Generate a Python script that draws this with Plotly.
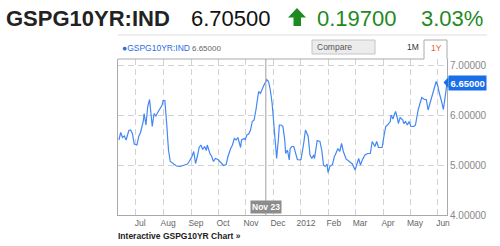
import plotly.graph_objects as go

# ---------------- data ----------------
dates = [
"2011-06-13","2011-06-15","2011-06-17","2011-06-19","2011-06-21","2011-06-24","2011-06-26","2011-06-28","2011-06-30",
"2011-07-03","2011-07-05","2011-07-07","2011-07-10","2011-07-11","2011-07-13","2011-07-15","2011-07-17","2011-07-19",
"2011-07-20","2011-07-22","2011-07-24","2011-07-26","2011-07-29","2011-07-31",
"2011-08-01","2011-08-03","2011-08-05","2011-08-07","2011-08-09","2011-08-13","2011-08-16","2011-08-20","2011-08-24",
"2011-08-28","2011-08-30",
"2011-09-02","2011-09-04","2011-09-06","2011-09-08","2011-09-10","2011-09-12","2011-09-14","2011-09-16","2011-09-18",
"2011-09-19","2011-09-22","2011-09-24","2011-09-26","2011-09-28",
"2011-10-01","2011-10-03","2011-10-05","2011-10-07","2011-10-10","2011-10-12","2011-10-15","2011-10-17","2011-10-19",
"2011-10-21","2011-10-23","2011-10-26","2011-10-27","2011-10-30","2011-10-31",
"2011-11-02","2011-11-04","2011-11-06","2011-11-08","2011-11-10","2011-11-12","2011-11-13","2011-11-15","2011-11-17",
"2011-11-19","2011-11-21","2011-11-23","2011-11-24","2011-11-26","2011-11-28","2011-11-30",
"2011-12-02","2011-12-04","2011-12-05","2011-12-07","2011-12-08","2011-12-10","2011-12-12","2011-12-14","2011-12-15",
"2011-12-17","2011-12-19","2011-12-20","2011-12-22","2011-12-24","2011-12-26","2011-12-28","2011-12-30",
"2012-01-01","2012-01-04","2012-01-06","2012-01-09","2012-01-11","2012-01-13","2012-01-15","2012-01-16","2012-01-19",
"2012-01-22","2012-01-24","2012-01-26","2012-01-28","2012-01-30","2012-01-31",
"2012-02-02","2012-02-05","2012-02-07","2012-02-08","2012-02-11","2012-02-13","2012-02-15","2012-02-17","2012-02-20",
"2012-02-23","2012-02-27",
"2012-03-01","2012-03-03","2012-03-05","2012-03-07","2012-03-09","2012-03-12","2012-03-15","2012-03-18","2012-03-20",
"2012-03-23","2012-03-25","2012-03-27","2012-03-29","2012-03-31",
"2012-04-02","2012-04-04","2012-04-06","2012-04-09","2012-04-10","2012-04-12","2012-04-14","2012-04-15","2012-04-17",
"2012-04-18","2012-04-20","2012-04-23","2012-04-24","2012-04-26","2012-04-28","2012-04-30",
"2012-05-02","2012-05-05","2012-05-07","2012-05-09","2012-05-10","2012-05-12","2012-05-14","2012-05-17","2012-05-19",
"2012-05-21","2012-05-23","2012-05-25","2012-05-27","2012-05-30",
"2012-06-01","2012-06-02","2012-06-05","2012-06-07","2012-06-09","2012-06-11",
]
values = [
5.50,5.65,5.55,5.58,5.50,5.69,5.70,5.63,5.42,
5.40,5.57,5.65,5.87,6.03,5.80,6.17,6.31,5.97,
5.77,6.03,5.98,6.05,6.13,6.20,
6.29,6.29,5.83,5.30,5.07,5.01,4.98,4.97,5.00,
5.02,5.07,
5.17,5.27,5.03,5.17,5.35,5.40,5.31,5.37,5.29,
5.40,5.23,5.17,5.07,5.13,
5.11,5.07,5.02,4.99,5.01,5.17,5.33,5.40,5.53,
5.50,5.55,5.35,5.50,5.53,5.50,
5.60,5.62,5.70,5.87,5.90,6.10,6.23,6.47,6.43,
6.53,6.60,6.67,6.71,6.67,6.50,6.23,
5.77,5.43,5.13,5.53,5.80,5.80,5.77,5.50,5.23,
5.30,5.10,5.33,5.37,5.37,5.23,5.11,5.10,
5.11,5.43,5.70,5.57,5.20,5.13,5.20,5.13,5.49,
5.47,5.30,5.00,4.97,5.02,4.85,
4.97,5.01,5.17,5.20,5.33,5.27,5.43,5.27,5.12,
5.07,5.02,
4.90,5.03,5.13,5.00,5.10,5.20,5.23,5.23,5.47,
5.37,5.47,5.35,5.35,5.35,
5.57,5.77,5.80,5.87,6.00,5.92,6.03,6.07,5.93,
5.83,5.95,5.90,5.83,5.87,5.80,5.87,
5.77,5.77,5.80,6.07,6.10,6.23,6.35,6.31,6.31,
6.10,6.23,6.40,6.50,6.67,
6.57,6.47,6.27,6.11,6.37,6.65,
]
tick_dates = ["2011-07-01","2011-08-01","2011-09-01","2011-10-01","2011-11-01","2011-12-01",
              "2012-01-01","2012-02-01","2012-03-01","2012-04-01","2012-05-01","2012-06-01"]
tick_labels = ["Jul","Aug","Sep","Oct","Nov","Dec","2012","Feb","Mar","Apr","May","Jun"]
y_ticks = [4, 5, 6, 7]
x_range = ["2011-06-12", "2012-06-11"]
y_range = [4, 7.12]
symbol = "GSPG10YR:IND"
last_price = "6.70500"
change = "0.19700"
change_pct = "3.03%"
hover_date = "2011-11-23"
hover_label = "Nov 23"
series_value = values[-1]

# ---------------- layout geometry ----------------
W, H = 500, 246
L, R, T, B = 118, 447, 59, 215
FONT = "Liberation Sans, Arial, sans-serif"

def px(x):
    return (x - L) / (R - L)

def py(y):
    return (B - y) / (B - T)

def path(points):
    s = "M " + " L ".join(f"{px(x):.5f},{py(y):.5f}" for x, y in points)
    return s + " Z"

fig = go.Figure()
fig.add_trace(go.Scatter(x=dates, y=values, mode="lines",
                         line=dict(color="#4287f5", width=1.2), hoverinfo="skip"))

annotations = []
def text(x, y, s, size, color, bold=False, anchor="left", **kw):
    annotations.append(dict(xref="paper", yref="paper", x=px(x), y=py(y), text=(f"<b>{s}</b>" if bold else s),
                            showarrow=False, xanchor=anchor, yanchor="middle",
                            font=dict(family=FONT, size=size, color=color), **kw))

text(4, 18, symbol, 22, "#222222", bold=True)
text(189, 18, last_price, 22, "#111111")
text(315, 18, change, 22, "#1f8a1f")
text(419, 18, change_pct, 22, "#1f8a1f")
text(120, 48, "●" + symbol, 8.5, "#2b6de3")
text(190, 48, f"{series_value:.5f}", 8, "#666666")
text(315, 47, "Compare", 8.5, "#555555")
text(405, 47, "1M", 8.5, "#333333")
text(429, 48, "1Y", 8.5, "#f0602c")
text(116, 236, "Interactive GSPG10YR Chart »", 8.5, "#222222", bold=True)

# value label on right axis
annotations.append(dict(xref="paper", yref="y", x=px(448), y=series_value, text=f"<b>{series_value:.5f}</b>",
                        showarrow=False, xanchor="left", yanchor="middle", bgcolor="#1a6ee8", borderpad=1.5,
                        font=dict(family=FONT, size=9.5, color="white")))
# crosshair label
annotations.append(dict(xref="x", yref="paper", x=hover_date, y=0, yshift=1, text=f"<b>{hover_label}</b>",
                        showarrow=False, xanchor="center", yanchor="bottom", bgcolor="#8c8c8c", borderpad=1,
                        font=dict(family=FONT, size=8.5, color="white")))

shapes = [
    # green up arrow
    dict(type="path", xref="paper", yref="paper", line=dict(width=0), fillcolor="#1f8a1f", layer="above",
         path=path([(288, 17.5), (297, 8), (306, 17.5), (301, 17.5), (301, 26), (293.5, 26), (293.5, 17.5)])),
    # separator line
    dict(type="line", xref="paper", yref="paper", x0=px(118), x1=px(487), y0=py(35), y1=py(35),
         line=dict(color="#dddddd", width=1)),
    # compare box
    dict(type="rect", xref="paper", yref="paper", x0=px(312), x1=px(375), y0=py(54), y1=py(40),
         line=dict(color="#c4c4c4", width=1), fillcolor="#ececec", layer="below"),
    # top border + tab
    dict(type="path", xref="paper", yref="paper", line=dict(color="#aaaaaa", width=1),
         path=f"M {px(L)},{py(T)} L {px(424)},{py(T)} L {px(424)},{py(40)} L {px(R)},{py(40)} L {px(R)},{py(T)}"),
    # crosshair line
    dict(type="line", xref="x", yref="paper", x0=hover_date, x1=hover_date, y0=0, y1=1,
         line=dict(color="#a0a0a0", width=1)),
    # arrow pointer of value label
    dict(type="path", xref="paper", yref="y", line=dict(width=0), fillcolor="#1a6ee8",
         path=f"M {px(443.5)},{series_value} L {px(448.5)},{series_value + 0.11} L {px(448.5)},{series_value - 0.11} Z"),
]

fig.update_layout(
    width=W, height=H, margin=dict(l=L, r=W - R, t=T, b=H - B),
    paper_bgcolor="white", plot_bgcolor="white", showlegend=False,
    font=dict(family=FONT),
    annotations=annotations, shapes=shapes,
    xaxis=dict(type="date", range=x_range, tickvals=tick_dates, ticktext=tick_labels,
               tickfont=dict(size=8.5, color="#666666"), ticklabelshift=5, ticks="",
               showgrid=True, gridcolor="#d2d2d2", griddash="6px,4px", gridwidth=1,
               showline=True, linecolor="#aaaaaa", linewidth=1, mirror=False, zeroline=False,
               fixedrange=True),
    yaxis=dict(range=y_range, side="right", tickvals=y_ticks, tickformat=".5f",
               tickfont=dict(size=10, color="#888888"), ticks="",
               showgrid=True, gridcolor="#d2d2d2", griddash="6px,4px", gridwidth=1,
               showline=True, linecolor="#aaaaaa", linewidth=1, mirror=True, zeroline=False,
               fixedrange=True),
)

fig.write_html("out.html", config=dict(displayModeBar=False))
